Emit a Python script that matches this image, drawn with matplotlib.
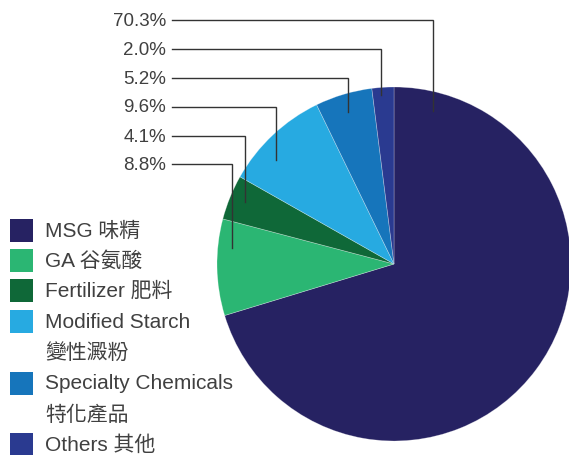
import matplotlib
matplotlib.use("Agg")
import matplotlib.pyplot as plt

# ---- data ----
categories = ["MSG 味精", "GA 谷氨酸", "Fertilizer 肥料", "Modified Starch\n變性澱粉",
              "Specialty Chemicals\n特化產品", "Others 其他"]
values = [70.3, 8.8, 4.1, 9.6, 5.2, 2.0]
colors = ["#262262", "#2bb673", "#0f6838", "#27aae1", "#1675bb", "#2a3a90"]

# label order shown on the left (top to bottom)
label_order = [0, 5, 4, 3, 2, 1]

plt.rcParams['font.family'] = ['Liberation Sans', 'Noto Sans CJK TC', 'DejaVu Sans']

W, H = 569, 456
fig = plt.figure(figsize=(W / 100, H / 100), dpi=100)
ax = fig.add_axes([0, 0, 1, 1])

cx, cy, r = 394, H - 265, 177
ax.pie(values, colors=colors, startangle=90, counterclock=False,
       center=(cx, cy), radius=r,
       wedgeprops=dict(edgecolor=(1, 1, 1, 0.35), linewidth=0.5))
ax.set_xlim(0, W)
ax.set_ylim(0, H)
ax.set_aspect('equal')
ax.axis('off')

# leader-line layout (pixel coordinates, y from top)
label_y = [21, 50, 79, 108, 137, 165]
line_x = [433, 381, 348, 276, 245, 232]
line_end_y = [112, 96, 113, 161, 203, 249]
text_color = "#404040"
for i, idx in enumerate(label_order):
    y = H - label_y[i]
    ax.text(166, y, f"{values[idx]:.1f}%", ha='right', va='center',
            fontsize=13.5, color=text_color)
    ax.plot([172, line_x[i], line_x[i]], [y, y, H - line_end_y[i]],
            color="#333333", lw=1.0, solid_joinstyle='miter')

# legend
legend_y = [231, 261, 291, 322, 384, 445]
for i, (cat, col) in enumerate(zip(categories, colors)):
    y = H - legend_y[i]
    ax.add_patch(plt.Rectangle((10, y - 11.5), 23, 23, color=col, lw=0))
    lines = cat.split("\n")
    ax.text(45, y, lines[0], ha='left', va='center', fontsize=15,
            color=text_color)
    if len(lines) > 1:
        ax.text(45, y - 31, lines[1], ha='left', va='center', fontsize=15,
                color=text_color)

fig.savefig("out.png", dpi=100)
